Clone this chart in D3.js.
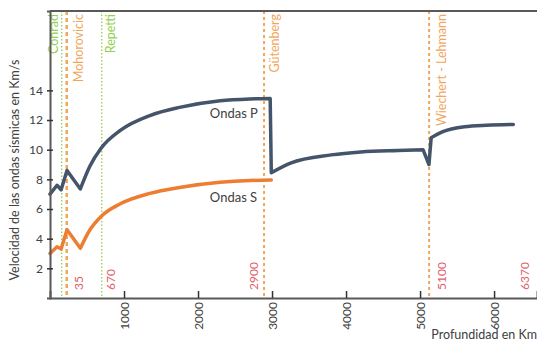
<!DOCTYPE html>
<html>
<head>
<meta charset="utf-8">
<script src="https://cdn.jsdelivr.net/npm/d3@7"></script>
<style>
  body { margin: 0; background: #fff; }
  text { font-family: Lato, "Open Sans", sans-serif; }
</style>
</head>
<body>
<script>
var width = 537, height = 343;

// velocity data (depth in km, speed in km/s)
var depthP = [0, 95, 150, 230, 410, 540, 690, 950, 1350, 1750, 2300, 2700, 2975, 2990, 3250, 3800, 4200, 4700, 5040, 5120, 5150, 5300, 5600, 5900, 6260];
var speedP = [7.0, 7.6, 7.3, 8.6, 7.35, 8.9, 10.1, 11.3, 12.3, 12.85, 13.3, 13.42, 13.45, 8.45, 9.1, 9.65, 9.85, 9.95, 10.0, 9.0, 10.8, 11.2, 11.55, 11.65, 11.7];
var kinksP = [0, 1, 2, 3, 4, 12, 13, 18, 19, 20, 24];

var depthS = [0, 95, 150, 230, 410, 540, 690, 950, 1350, 1750, 2300, 2700, 2990];
var speedS = [3.0, 3.45, 3.3, 4.6, 3.35, 4.6, 5.5, 6.35, 7.05, 7.45, 7.8, 7.92, 7.95];
var kinksS = [0, 1, 2, 3, 4, 12];

var yTicks = [2, 4, 6, 8, 10, 12, 14];
var xTicks = [1000, 2000, 3000, 4000, 5000, 6000];

// discontinuities
var bNames  = ["Conrad", "Mohorovicic", "Repetti", "Gütenberg", "Wiechert - Lehmann"];
var bDepths = [158, 226, 699, 2892, 5122];
var bLabels = ["", "35", "670", "2900", "5100"];
var bKinds  = ["green", "orange", "green", "orange", "orange"];
var bNameOffset  = [-3.5, 16, 13, 15, 17];
var bLabelOffset = [0, 16, 13, -6, 17];
var extraLabel = "6370", extraDepth = 6470;

var x = d3.scaleLinear().domain([0, 6580]).range([50, 537]);
var y = d3.scaleLinear().domain([0, 19.35]).range([298, 11]);

var svg = d3.select("body").append("svg")
  .attr("width", width)
  .attr("height", height);

var axisCol = "#595959";
var orange = "#F2A65A", green = "#92D050", red = "#E0606A";

// boundary lines
bDepths.forEach(function (d, i) {
  var g = bKinds[i] == "green";
  svg.append("line")
    .attr("x1", x(d)).attr("x2", x(d))
    .attr("y1", 11).attr("y2", 298)
    .attr("stroke", g ? green : orange)
    .attr("stroke-width", g ? 1.3 : (i == 1 ? 2.5 : 2))
    .attr("stroke-dasharray", g ? "1.5,2" : (i == 1 ? "4,3" : "3,3"));
  svg.append("text")
    .attr("transform", "translate(" + (x(d) + bNameOffset[i]) + ",14) rotate(-90)")
    .attr("text-anchor", "end")
    .attr("font-size", 12.5)
    .attr("fill", g ? green : orange)
    .text(bNames[i]);
  if (bLabels[i] != "") {
    svg.append("text")
      .attr("transform", "translate(" + (x(d) + bLabelOffset[i]) + ",290) rotate(-90)")
      .attr("font-size", 12)
      .attr("fill", red)
      .text(bLabels[i]);
  }
});
svg.append("text")
  .attr("transform", "translate(" + x(extraDepth) + ",290) rotate(-90)")
  .attr("font-size", 12)
  .attr("fill", red)
  .text(extraLabel);

// curves: smooth between kinks, sharp at kinks
var line = d3.line()
  .x(function (d) { return x(d[0]); })
  .y(function (d) { return y(d[1]); })
  .curve(d3.curveMonotoneX);

function drawCurve(depths, speeds, kinks, color) {
  var pts = d3.zip(depths, speeds);
  var d = "";
  for (var k = 0; k < kinks.length - 1; k++) {
    var seg = line(pts.slice(kinks[k], kinks[k + 1] + 1));
    d += k == 0 ? seg : "L" + seg.slice(1);
  }
  svg.append("path")
    .attr("d", d)
    .attr("fill", "none")
    .attr("stroke", color)
    .attr("stroke-width", 3.5)
    .attr("stroke-linejoin", "round")
    .attr("stroke-linecap", "round");
}
drawCurve(depthS, speedS, kinksS, "#ED7D31");
drawCurve(depthP, speedP, kinksP, "#44546A");

svg.append("text")
  .attr("x", x(2160)).attr("y", 118)
  .attr("font-size", 13).attr("fill", "#404040")
  .text("Ondas P");
svg.append("text")
  .attr("x", x(2160)).attr("y", 202)
  .attr("font-size", 13).attr("fill", "#404040")
  .text("Ondas S");

// axes
svg.append("line")
  .attr("x1", 50).attr("x2", 537).attr("y1", 11).attr("y2", 11)
  .attr("stroke", axisCol).attr("stroke-width", 2);

var xAxis = svg.append("g")
  .attr("transform", "translate(0,298)")
  .call(d3.axisBottom(x).tickValues(xTicks).tickSize(-7).tickFormat(d3.format("d")));
xAxis.select(".domain").attr("stroke", axisCol).attr("stroke-width", 2);
xAxis.selectAll(".tick line").attr("stroke", "#333").attr("stroke-width", 1.5);
xAxis.selectAll(".tick text")
  .attr("transform", "rotate(-90)")
  .attr("text-anchor", "end")
  .attr("x", -4).attr("y", 0).attr("dy", "0.35em")
  .attr("font-size", 12).attr("fill", "#404040");

var yAxis = svg.append("g")
  .attr("transform", "translate(50,0)")
  .call(d3.axisLeft(y).tickValues(yTicks).tickSize(3));
yAxis.select(".domain").attr("stroke", axisCol).attr("stroke-width", 2);
yAxis.selectAll(".tick line").attr("x2", 3).attr("x1", -3).attr("stroke", "#333").attr("stroke-width", 1.5);
yAxis.selectAll(".tick text")
  .attr("x", -7)
  .attr("font-size", 12).attr("fill", "#404040");

svg.append("text")
  .attr("transform", "translate(19,170) rotate(-90)")
  .attr("text-anchor", "middle")
  .attr("font-size", 12.5).attr("fill", "#404040")
  .text("Velocidad de las ondas sísmicas en Km/s");

svg.append("text")
  .attr("x", 537).attr("y", 339)
  .attr("text-anchor", "end")
  .attr("font-size", 12.5).attr("fill", "#404040")
  .text("Profundidad en Km");
</script>
</body>
</html>
